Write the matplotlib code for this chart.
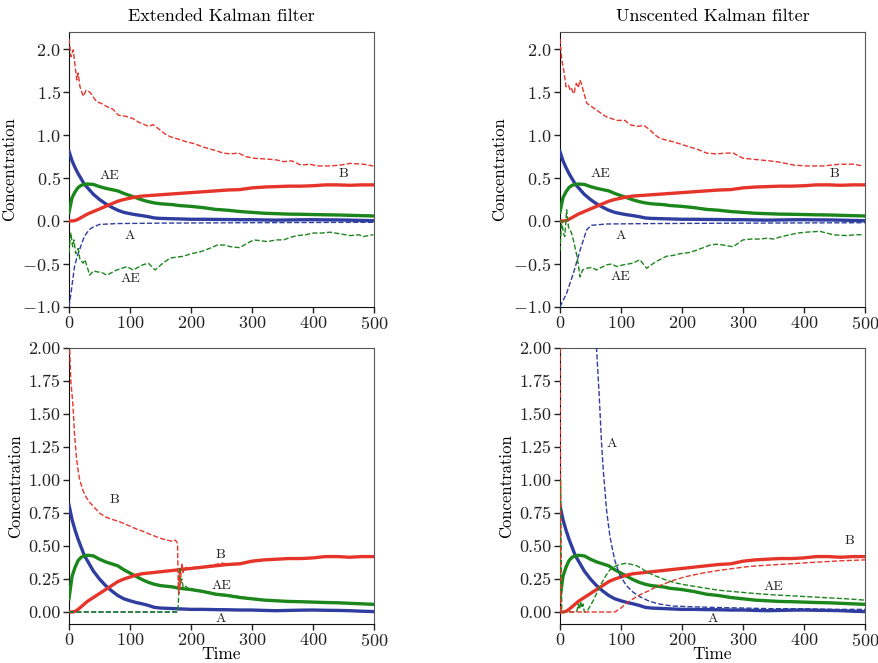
import numpy as np
import matplotlib
matplotlib.use("Agg")
import matplotlib.pyplot as plt

plt.rcParams.update({
    "font.family": "serif",
    "font.serif": ["cmr10"],
    "mathtext.fontset": "cm",
    "axes.formatter.use_mathtext": True,
    "axes.unicode_minus": True,
    "font.size": 12,
})

RED = "#e5352b"
BLUE = "#2e3d9f"
GREEN = "#1b861b"

# true concentrations (shared by all four panels)
t_true = [0, 5, 10, 15, 20, 25, 30, 40, 50, 60, 70, 80, 90, 100, 110, 120, 130, 140,
          150, 160, 170, 180, 200, 220, 240, 260, 280, 300, 320, 340, 360, 380, 400,
          420, 440, 460, 480, 500]
A_true = [0.81, 0.70, 0.62, 0.55, 0.49, 0.43, 0.39, 0.31, 0.25, 0.20, 0.16, 0.125, 0.10,
          0.085, 0.072, 0.062, 0.05, 0.035, 0.03, 0.028, 0.026, 0.024, 0.02, 0.02, 0.018,
          0.017, 0.015, 0.015, 0.012, 0.01, 0.012, 0.014, 0.015, 0.013, 0.012, 0.01,
          0.006, 0.003]
AE_true = [0.10, 0.27, 0.34, 0.39, 0.415, 0.425, 0.43, 0.425, 0.40, 0.38, 0.365, 0.35,
           0.32, 0.295, 0.27, 0.245, 0.225, 0.21, 0.20, 0.195, 0.19, 0.18, 0.17, 0.155,
           0.135, 0.125, 0.11, 0.10, 0.09, 0.085, 0.08, 0.078, 0.075, 0.072, 0.07, 0.066,
           0.062, 0.058]
B_true = [0.0, 0.0, 0.005, 0.02, 0.04, 0.06, 0.08, 0.11, 0.14, 0.17, 0.20, 0.23, 0.25,
          0.265, 0.28, 0.29, 0.295, 0.30, 0.305, 0.31, 0.315, 0.32, 0.33, 0.34, 0.35,
          0.36, 0.365, 0.385, 0.395, 0.40, 0.405, 0.405, 0.41, 0.42, 0.42, 0.415, 0.42,
          0.42]

# EKF, wrong initial guess (top left)
ekf1_Bt = [0, 3, 7, 10, 12.8, 15, 18, 23.5, 28, 34, 40, 45, 55, 62, 72, 81, 92, 105, 114,
           121, 130, 138, 149, 158, 166, 180, 193, 205, 220, 235, 253, 265, 278, 289, 303,
           325, 340, 352, 365, 380, 395, 407, 428, 445, 461, 483, 499]
ekf1_B = [2.12, 1.91, 1.99, 1.80, 1.64, 1.72, 1.56, 1.45, 1.52, 1.50, 1.44, 1.39, 1.36,
          1.33, 1.30, 1.23, 1.22, 1.19, 1.15, 1.13, 1.10, 1.12, 1.06, 1.01, 0.98, 0.95,
          0.92, 0.90, 0.86, 0.83, 0.79, 0.78, 0.79, 0.75, 0.73, 0.72, 0.71, 0.69, 0.70,
          0.65, 0.66, 0.64, 0.64, 0.65, 0.67, 0.66, 0.64]
ekf1_AEt = [0, 3, 6, 8, 11, 15, 18, 23, 26, 34, 40, 45, 54, 62, 70, 78, 87, 95, 105, 113,
            121, 130, 141, 154, 166, 177, 188, 200, 215, 230, 243, 255, 265, 280, 292, 303,
            315, 325, 340, 352, 363, 374, 388, 401, 415, 428, 445, 461, 475, 483, 499]
ekf1_AE = [-0.37, -0.14, -0.30, -0.22, -0.38, -0.32, -0.45, -0.49, -0.45, -0.63, -0.58,
           -0.59, -0.60, -0.63, -0.60, -0.57, -0.55, -0.53, -0.57, -0.54, -0.51, -0.49,
           -0.57, -0.49, -0.43, -0.42, -0.41, -0.38, -0.36, -0.32, -0.28, -0.28, -0.30,
           -0.31, -0.26, -0.22, -0.23, -0.24, -0.22, -0.22, -0.19, -0.17, -0.16, -0.14,
           -0.14, -0.13, -0.15, -0.17, -0.16, -0.18, -0.16]
ekf1_At = [0, 4, 9, 14, 18, 24, 29, 35, 40, 50, 80, 150, 300, 500]
ekf1_A = [-1.0, -0.80, -0.53, -0.40, -0.32, -0.20, -0.14, -0.09, -0.07, -0.04, -0.03,
          -0.025, -0.02, -0.015]

# UKF, wrong initial guess (top right)
ukf1_Bt = [0, 3, 5.5, 10, 14, 17, 19, 21, 23.5, 25, 27, 30, 33, 36, 38, 44, 52, 60, 68,
           76.5, 85, 93, 106.5, 115, 126, 138, 147.5, 156, 164, 175, 186, 200, 213, 227,
           240, 256, 273, 284, 300, 314, 328, 342, 355, 370, 383, 404, 432, 445, 459, 481,
           497]
ukf1_B = [2.12, 1.87, 1.79, 1.56, 1.58, 1.52, 1.54, 1.50, 1.48, 1.56, 1.60, 1.55, 1.64,
          1.58, 1.52, 1.37, 1.33, 1.29, 1.25, 1.21, 1.19, 1.17, 1.17, 1.12, 1.10, 1.11,
          1.06, 1.00, 0.96, 0.94, 0.92, 0.89, 0.86, 0.83, 0.79, 0.78, 0.79, 0.79, 0.73,
          0.72, 0.71, 0.70, 0.69, 0.67, 0.65, 0.64, 0.64, 0.65, 0.66, 0.66, 0.64]
ukf1_AEt = [0, 3, 5.5, 8, 11, 14, 19, 22, 27, 30, 33, 37, 44, 52, 60, 68, 76.5, 85, 93,
            104, 112, 120, 131, 142, 158, 175, 186, 197, 210, 224, 235, 246, 257, 268,
            284, 300, 314, 328, 340, 350, 364, 377, 390, 404, 426, 448, 470, 485, 497]
ukf1_AE = [-0.35, 0.01, -0.14, -0.18, 0.13, -0.07, -0.14, -0.22, -0.38, -0.50, -0.65,
           -0.57, -0.55, -0.54, -0.57, -0.54, -0.51, -0.50, -0.53, -0.51, -0.50, -0.49,
           -0.45, -0.55, -0.47, -0.41, -0.40, -0.38, -0.37, -0.34, -0.31, -0.28, -0.27,
           -0.28, -0.30, -0.22, -0.21, -0.21, -0.20, -0.21, -0.18, -0.16, -0.14, -0.13,
           -0.12, -0.16, -0.17, -0.16, -0.16]
ukf1_At = [0, 11, 22, 33, 44, 52, 76, 150, 300, 500]
ukf1_A = [-1.0, -0.84, -0.61, -0.34, -0.10, -0.05, -0.035, -0.03, -0.025, -0.02]

# EKF, second initial guess (bottom left)
ekf2_Bt = [0, 1, 3, 6.6, 9, 12, 15, 17.6, 23, 28, 34, 42, 50, 60, 72, 85, 95, 110, 122,
           135, 149, 160, 166, 170, 174, 177, 178, 179, 180, 181, 182, 183, 185, 187, 190,
           195, 200, 220, 240, 250, 260, 280, 300, 320, 340, 360, 380, 400, 420, 440, 460,
           480, 500]
ekf2_B = [2.6, 2.0, 1.75, 1.56, 1.35, 1.18, 1.07, 1.0, 0.92, 0.87, 0.83, 0.79, 0.75,
          0.72, 0.70, 0.68, 0.66, 0.63, 0.61, 0.585, 0.56, 0.545, 0.54, 0.535, 0.545, 0.53,
          0.50, 0.20, 0.14, 0.30, 0.18, 0.25, 0.37, 0.30, 0.34, 0.33, 0.335, 0.345, 0.36,
          0.37, 0.365, 0.37, 0.39, 0.395, 0.40, 0.405, 0.405, 0.41, 0.42, 0.42, 0.415,
          0.42, 0.42]
ekf2_AEt = [0, 178, 179, 180, 181, 182, 183, 185, 187, 190, 195, 200, 220, 240, 260, 280,
            300, 320, 340, 360, 380, 400, 420, 440, 460, 480, 500]
ekf2_AE = [0.0, 0.0, 0.05, 0.15, 0.30, 0.34, 0.22, 0.25, 0.19, 0.20, 0.18, 0.175, 0.16,
           0.14, 0.13, 0.115, 0.10, 0.09, 0.085, 0.08, 0.078, 0.075, 0.072, 0.07, 0.066,
           0.062, 0.058]
ekf2_At = [0, 178, 180, 200, 250, 300, 350, 400, 450, 500]
ekf2_A = [0.0, 0.0, 0.02, 0.02, 0.018, 0.015, 0.01, 0.015, 0.01, 0.003]

# UKF, second initial guess (bottom right)
ukf2_Bt = [0, 1.5, 90, 100, 109, 120, 131, 145, 158, 172, 186, 200, 213, 240, 260, 284,
           310, 340, 377, 410, 431, 460, 500]
ukf2_B = [2.5, 0.0, 0.0, 0.03, 0.066, 0.10, 0.13, 0.16, 0.19, 0.215, 0.24, 0.26, 0.275,
          0.30, 0.315, 0.33, 0.345, 0.355, 0.365, 0.375, 0.38, 0.388, 0.395]
ukf2_AEt = [0, 1, 2, 3, 25, 28, 30, 32, 34, 36, 38, 40, 45, 49, 55, 60, 65, 71, 76, 82,
            90, 98, 109, 118, 126, 134, 142, 153, 164, 175, 186, 200, 213, 240, 260, 284,
            320, 350, 390, 430, 470, 500]
ukf2_AE = [0.1, 1.0, 0.5, 0.0, 0.0, 0.01, 0.06, 0.02, 0.08, 0.03, 0.06, 0.0, 0.01, 0.04,
           0.09, 0.14, 0.19, 0.24, 0.28, 0.32, 0.345, 0.36, 0.37, 0.36, 0.35, 0.33, 0.305,
           0.28, 0.26, 0.24, 0.225, 0.21, 0.20, 0.18, 0.165, 0.155, 0.14, 0.13, 0.12, 0.11,
           0.10, 0.09]
ukf2_At = [50, 55, 60, 64.5, 68, 71, 76.5, 82, 90, 98, 109, 120, 131, 145, 158, 172, 186,
           213, 250, 300, 350, 400, 450, 500]
ukf2_A = [2.9, 2.4, 2.0, 1.63, 1.30, 1.08, 0.77, 0.57, 0.39, 0.28, 0.20, 0.15, 0.116,
          0.085, 0.066, 0.053, 0.045, 0.04, 0.035, 0.03, 0.025, 0.025, 0.02, 0.02]

titles = ["Extended Kalman filter", "Unscented Kalman filter"]

# label text and (t, value) anchor for each panel
labels = [
    [("AE", 66, 0.52), ("A", 100, -0.17), ("AE", 100, -0.67), ("B", 450, 0.55)],
    [("AE", 66, 0.55), ("A", 100, -0.17), ("AE", 100, -0.65), ("B", 450, 0.55)],
    [("B", 75, 0.85), ("B", 249, 0.43), ("AE", 250, 0.20), ("A", 249, -0.05)],
    [("A", 85, 1.27), ("B", 474, 0.54), ("AE", 350, 0.19), ("A", 250, -0.05)],
]

estimates = [
    (ekf1_At, ekf1_A, ekf1_AEt, ekf1_AE, ekf1_Bt, ekf1_B),
    (ukf1_At, ukf1_A, ukf1_AEt, ukf1_AE, ukf1_Bt, ukf1_B),
    (ekf2_At, ekf2_A, ekf2_AEt, ekf2_AE, ekf2_Bt, ekf2_B),
    (ukf2_At, ukf2_A, ukf2_AEt, ukf2_AE, ukf2_Bt, ukf2_B),
]

fig = plt.figure(figsize=(8.79, 6.63), dpi=100)
positions = [
    [0.0785, 0.537, 0.347, 0.415],
    [0.637, 0.537, 0.347, 0.415],
    [0.0785, 0.059, 0.347, 0.416],
    [0.637, 0.059, 0.347, 0.416],
]

for k, pos in enumerate(positions):
    ax = fig.add_axes(pos)
    At, Av, AEt, AEv, Bt, Bv = estimates[k]

    ax.plot(t_true, A_true, color=BLUE, lw=2.4, zorder=3)
    ax.plot(t_true, AE_true, color=GREEN, lw=2.4, zorder=3)
    ax.plot(t_true, B_true, color=RED, lw=2.4, zorder=3)
    ax.plot(At, Av, color=BLUE, lw=1.0, ls="--", zorder=4)
    ax.plot(AEt, AEv, color=GREEN, lw=1.0, ls="--", zorder=4)
    ax.plot(Bt, Bv, color=RED, lw=1.0, ls="--", zorder=4)

    for txt, tx, ty in labels[k]:
        ax.text(tx, ty, txt, fontsize=10, ha="center", va="center", color="#222222")

    ax.set_xlim(0, 500)
    ax.set_xticks(np.arange(0, 501, 100))
    if k < 2:
        ax.set_ylim(-1.0, 2.2)
        ax.set_yticks(np.arange(-1.0, 2.01, 0.5))
        ax.yaxis.set_major_formatter(matplotlib.ticker.FuncFormatter(
            lambda v, p: "$\\mathdefault{%s}$" % ("%.1f" % v).replace("-", "\u2212")))
        ax.set_title(titles[k], fontsize=13, pad=8)
    else:
        ax.set_ylim(-0.09, 2.0)
        ax.set_yticks(np.arange(0, 2.01, 0.25))
        ax.yaxis.set_major_formatter(matplotlib.ticker.FormatStrFormatter("%.2f"))
        ax.set_xlabel("Time", fontsize=12.5, labelpad=-2)
    ax.set_ylabel("Concentration", fontsize=12)
    ax.tick_params(direction="out", length=4, width=1, labelsize=13, pad=2,
                   colors="#222222")
    for side in ["left", "bottom"]:
        ax.spines[side].set_color("#111111")
    for side in ["top", "right"]:
        ax.spines[side].set_color("#555555")

fig.savefig("out.png", dpi=100)
